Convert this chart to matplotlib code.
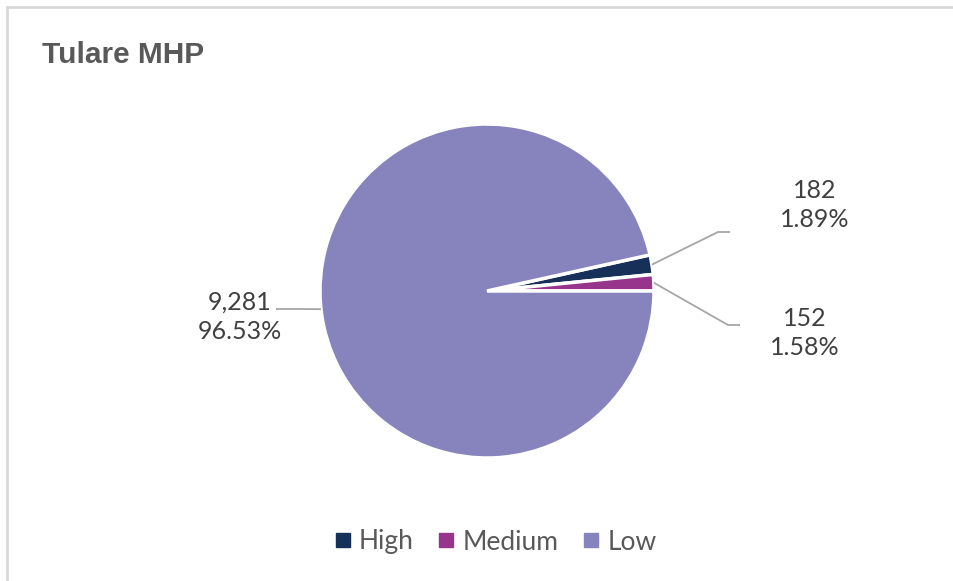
import numpy as np
import matplotlib.pyplot as plt
from matplotlib.lines import Line2D

# data
categories = ['High', 'Medium', 'Low']
counts = [182, 152, 9281]
colors = ['#173059', '#97358D', '#8783BC']

W, H = 954, 581
fig = plt.figure(figsize=(W / 100, H / 100), dpi=100)

# pie geometry in pixels
cx, cy, r = 487, 291, 167
ax = fig.add_axes([(cx - r) / W, (H - cy - r) / H, 2 * r / W, 2 * r / H])

total = sum(counts)
start = (counts[0] + counts[1]) / total * 360
wedges, _ = ax.pie(counts, colors=colors, startangle=start, counterclock=False,
                   wedgeprops=dict(edgecolor='white', linewidth=2.5))
ax.set_xlim(-1, 1)
ax.set_ylim(-1, 1)
ax.set_aspect('equal')
ax.axis('off')


def px(x, y):
    return ((x - cx) / r, (cy - y) / r)


# label centre and leader elbow/end (pixels)
label_pos = [(815, 205), (805, 333), (240, 317)]
elbows = [[(718, 232), (730, 232)], [(728, 325), (740, 325)], [(300, 309), (276, 309)]]

for w, v, lp, el in zip(wedges, counts, label_pos, elbows):
    mid = np.deg2rad((w.theta1 + w.theta2) / 2)
    ex, ey = np.cos(mid) * 1.0, np.sin(mid) * 1.0
    pts = [(ex, ey)] + [px(*p) for p in el]
    ax.plot([p[0] for p in pts], [p[1] for p in pts], color='#A6A6A6', lw=1.3,
            clip_on=False, solid_capstyle='butt')
    tx, ty = px(*lp)
    ax.text(tx, ty, f"{v:,}\n{v / total * 100:.2f}%", ha='center', va='center',
            fontsize=18, color='#404040', family='Lato', linespacing=1.36)

# title
fig.text(42 / W, 1 - 55 / H, 'Tulare MHP', fontsize=21.5, fontweight='bold',
         color='#595959', family='Liberation Sans', ha='left', va='center')

# legend
handles = [Line2D([], [], marker='s', ls='', color=c, markersize=10) for c in colors]
fig.legend(handles, categories, loc='center', bbox_to_anchor=(493 / W, 1 - 542 / H),
           ncol=3, frameon=False, prop=dict(family='Lato', size=19),
           labelcolor='#595959', handletextpad=0.1, columnspacing=0.75, handlelength=1.0)

# chart border (only top and left visible)
fig.add_artist(Line2D([7 / W, 7 / W], [0, 1 - 7 / H], color='#D9D9D9', lw=2))
fig.add_artist(Line2D([7 / W, 1], [1 - 7 / H, 1 - 7 / H], color='#D9D9D9', lw=2))

fig.savefig('out.png', dpi=100, facecolor='white')
